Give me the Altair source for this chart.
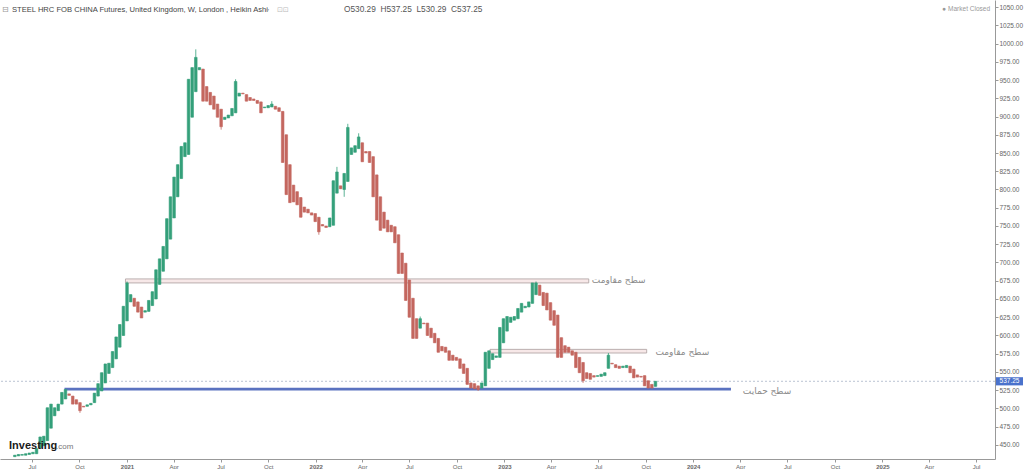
import altair as alt
import pandas as pd

# ---------------- data ----------------
first_week = "2020-05-29"
opens = [434, 435, 436, 436, 437, 438, 438, 446, 449, 456, 473, 490, 497, 506, 513, 520, 517, 512, 508, 503,
         503, 505, 508, 517, 524, 535, 548, 556, 568, 584, 600, 620, 646, 651, 646, 639, 632, 633, 641, 650,
         670, 688, 705, 732, 761, 790, 815, 845, 848, 899, 934, 964, 965, 941, 933, 928, 917, 910, 896, 898,
         901, 905, 928, 932, 930, 926, 924, 922, 920, 912, 912, 913, 914, 912, 907, 875, 834, 806, 797, 789,
         776, 773, 768, 767, 762, 752, 750, 749, 751, 795, 805, 800, 811, 848, 851, 856, 864, 852, 852, 845,
         820, 790, 769, 758, 751, 749, 738, 713, 699, 676, 651, 623, 610, 617, 617, 610, 603, 596, 585, 584,
         579, 573, 570, 568, 561, 555, 535, 534, 531, 528, 531, 555, 567, 570, 570, 590, 606, 618, 621, 623,
         632, 638, 639, 644, 656, 669, 659, 658, 645, 634, 628, 597, 586, 584, 579, 577, 570, 563, 549, 548,
         545, 544, 544, 545, 555, 562, 560, 558, 556, 556, 558, 554, 546, 544, 545, 538, 533, 530.29]
closes = [436, 437, 437, 438, 439, 440, 445, 461, 462, 501, 506, 501, 506, 522, 526, 518, 506, 506, 497, 502,
          505, 507, 521, 534, 549, 561, 562, 578, 598, 615, 640, 672, 656, 640, 632, 624, 634, 648, 660, 690,
          705, 722, 760, 790, 817, 834, 859, 864, 951, 967, 981, 967, 921, 921, 916, 910, 899, 886, 899, 902,
          911, 948, 932, 931, 921, 922, 922, 918, 905, 913, 915, 917, 910, 907, 837, 793, 782, 783, 779, 762,
          769, 768, 765, 756, 742, 750, 748, 761, 812, 824, 801, 822, 885, 857, 860, 872, 838, 850, 837, 790,
          758, 744, 747, 742, 742, 727, 685, 685, 648, 625, 596, 596, 623, 616, 600, 597, 590, 577, 579, 577,
          566, 566, 566, 555, 548, 533, 528, 527, 526, 535, 577, 579, 575, 572, 611, 623, 626, 625, 626, 637,
          644, 640, 646, 672, 672, 655, 641, 635, 621, 614, 570, 570, 577, 577, 573, 556, 549, 538, 541, 540,
          543, 545, 547, 549, 573, 561, 556, 555, 558, 559, 549, 542, 543, 543, 531, 528, 528, 537.25]
wick_highs = {31: 674, 50: 992, 61: 951, 71: 921, 89: 831, 92: 890, 95: 877, 112: 626, 144: 674, 164: 576}
wick_lows = {18: 494, 57: 882, 84: 738, 91: 790, 128: 524, 157: 535}

levels_start = ["2020-12-29", "2022-12-04"]
levels_end = ["2023-06-13", "2023-10-03"]
levels_low = [672.0, 576.0]
levels_high = [677.5, 581.0]
res_label_dates = ["2023-06-19", "2023-10-20"]
res_label_prices = [676.0, 578.0]
res_label_text = "سطح مقاومت"

support_start = "2020-09-02"
support_end = "2024-03-14"
support_price = 526.5
support_label_date = "2024-04-06"
support_label_price = 524.5
support_label_text = "سطح حمایت"

last_price = 537.25
y_ticks = [450, 475, 500, 525, 550, 575, 600, 625, 650, 675, 700, 725, 750, 775, 800,
           825, 850, 875, 900, 925, 950, 975, 1000, 1025, 1050]
x_tick_years_months = [(2020, 7), (2020, 10), (2021, 1), (2021, 4), (2021, 7), (2021, 10),
                       (2022, 1), (2022, 4), (2022, 7), (2022, 10), (2023, 1), (2023, 4),
                       (2023, 7), (2023, 10), (2024, 1), (2024, 4), (2024, 7), (2024, 10),
                       (2025, 1), (2025, 4), (2025, 7)]

title_text = "STEEL HRC FOB CHINA Futures, United Kingdom, W, London , Heikin Ashi"
ohlc_text = "\u00a0\u00a0".join(["O530.29", "H537.25", "L530.29", "C537.25"])

GREEN = "#34a07a"
RED = "#c4675f"

# ---------------- tables ----------------
dates = pd.date_range(first_week, periods=len(opens), freq="7D")
rows = []
for i, (o, c) in enumerate(zip(opens, closes)):
    rows.append(dict(
        date=dates[i].strftime("%Y-%m-%d"), open=o, close=c,
        high=max(o, c, wick_highs.get(i, 0)),
        low=min(o, c, wick_lows.get(i, 10000)),
        dir="up" if c >= o else "down"))
candles = pd.DataFrame(rows)

levels = pd.DataFrame(dict(start=levels_start, end=levels_end, low=levels_low, high=levels_high))
res_labels = pd.DataFrame(dict(date=res_label_dates, price=res_label_prices, t=[res_label_text] * 2))
support = pd.DataFrame(dict(start=[support_start], end=[support_end], price=[support_price]))
support_lbl = pd.DataFrame(dict(date=[support_label_date], price=[support_label_price], t=[support_label_text]))
last_df = pd.DataFrame(dict(price=[last_price], top=[last_price + 5.6], bot=[last_price - 5.6],
                            t=[f"{last_price:.2f}"]))

W, H = 995, 459
x_scale = alt.Scale(domain=[alt.DateTime(year=2020, month=5, date=10, utc=True),
                            alt.DateTime(year=2025, month=7, date=28, utc=True)])
y_scale = alt.Scale(domain=[430.8, 1059.6], nice=False, zero=False)

x_axis = alt.Axis(
    values=[alt.DateTime(year=y, month=m, date=1, utc=True) for y, m in x_tick_years_months],
    labelExpr="utcFormat(datum.value, '%m') == '01' ? utcFormat(datum.value, '%Y') : utcFormat(datum.value, '%b')",
    labelFontWeight={"condition": {"test": "utcFormat(datum.value, '%m') == '01'", "value": "bold"},
                     "value": "normal"},
    title=None, grid=False, tickSize=3, labelFontSize=6, labelColor="#666",
    labelFont="Liberation Sans", domainColor="#999", tickColor="#999", labelPadding=1,
    labelFlush=False, labelOverlap=False)
y_axis = alt.Axis(values=y_ticks, format=".2f", orient="right", title=None, grid=False,
                  tickSize=3, labelFontSize=6.5, labelColor="#666", labelFont="Liberation Sans",
                  domainColor="#999", tickColor="#999", labelPadding=1)


def X(field):
    return alt.X(field, type="temporal", scale=x_scale, axis=x_axis, title=None)


def Y(field):
    return alt.Y(field, type="quantitative", scale=y_scale, axis=y_axis, title=None)


color_enc = alt.Color("dir:N", scale=alt.Scale(domain=["up", "down"], range=[GREEN, RED]), legend=None)

last_rule = alt.Chart(last_df).mark_rule(color="#a8b4c8", strokeDash=[2, 2], strokeWidth=0.8).encode(
    y=Y("price"))

level_boxes = alt.Chart(levels).mark_rect(fill="#f7e8e8", stroke="#b3a7a7", strokeWidth=0.9).encode(
    x=X("start"), x2="end", y=Y("low"), y2="high")

support_line = alt.Chart(support).mark_rule(color="#5a72c0", strokeWidth=2.6).encode(
    x=X("start"), x2="end", y=Y("price"))

wicks = alt.Chart(candles).mark_rule(strokeWidth=0.8).encode(
    x=X("date"), y=Y("low"), y2="high", color=color_enc)

bodies = alt.Chart(candles).mark_bar(size=2.6, strokeWidth=0.6).encode(
    x=X("date"), y=Y("open"), y2="close", color=color_enc, stroke=color_enc)

res_text = alt.Chart(res_labels).mark_text(align="left", baseline="middle", fontSize=9,
                                            font="DejaVu Sans", color="#8a8a8a").encode(
    x=X("date"), y=Y("price"), text="t:N")
sup_text = alt.Chart(support_lbl).mark_text(align="left", baseline="middle", fontSize=9,
                                             font="DejaVu Sans", color="#8a8a8a").encode(
    x=X("date"), y=Y("price"), text="t:N")

price_box = alt.Chart(last_df).mark_rect(color="#4a72cc").encode(
    x=alt.value(996), x2=alt.value(1023), y=Y("top"), y2="bot")
price_txt = alt.Chart(last_df).mark_text(color="white", fontSize=6.5, font="Liberation Sans",
                                         align="center", baseline="middle").encode(
    x=alt.value(1009.5), y=Y("price"), text="t:N")


def pix_text(txt, x, y, **kw):
    return alt.Chart(pd.DataFrame(dict(t=[txt]))).mark_text(baseline="middle", **kw).encode(
        x=alt.value(x), y=alt.value(y), text="t:N")


head_icon = pix_text("⊟", 2, 10, align="left", fontSize=8, color="#999", font="DejaVu Sans")
head_title = pix_text(title_text, 12, 10, align="left", fontSize=7.6, color="#444",
                      font="Liberation Sans")
head_caret = pix_text("▾", 266, 10, align="left", fontSize=6, color="#aaa", font="DejaVu Sans")
head_boxes = pix_text("⊡⊡", 277, 10, align="left", fontSize=7, color="#bbb", font="DejaVu Sans")
head_ohlc = pix_text(ohlc_text, 344, 10, align="left", fontSize=8.3, color="#555",
                     font="Liberation Sans")
market = pix_text("● Market Closed", 990, 9, align="right", fontSize=6.5, color="#999",
                  font="Liberation Sans")
logo1 = pix_text("Investing", 9, 446, align="left", fontSize=11, fontWeight="bold", color="#1a1a1a",
                 font="Liberation Sans")
logo2 = pix_text(".com", 56, 447, align="left", fontSize=8, color="#777", font="Liberation Sans")

chart = alt.layer(
    last_rule, level_boxes, support_line, wicks, bodies, res_text, sup_text,
    price_box, price_txt, head_icon, head_title, head_caret, head_boxes, head_ohlc, market,
    logo1, logo2,
).properties(
    width=W, height=H,
    autosize=alt.AutoSizeParams(type="none"),
    padding={"left": 0, "top": 0, "right": 29, "bottom": 10},
    background="white",
).configure_view(strokeWidth=0)

chart.save("out.html", embed_options={"renderer": "svg", "actions": False})
